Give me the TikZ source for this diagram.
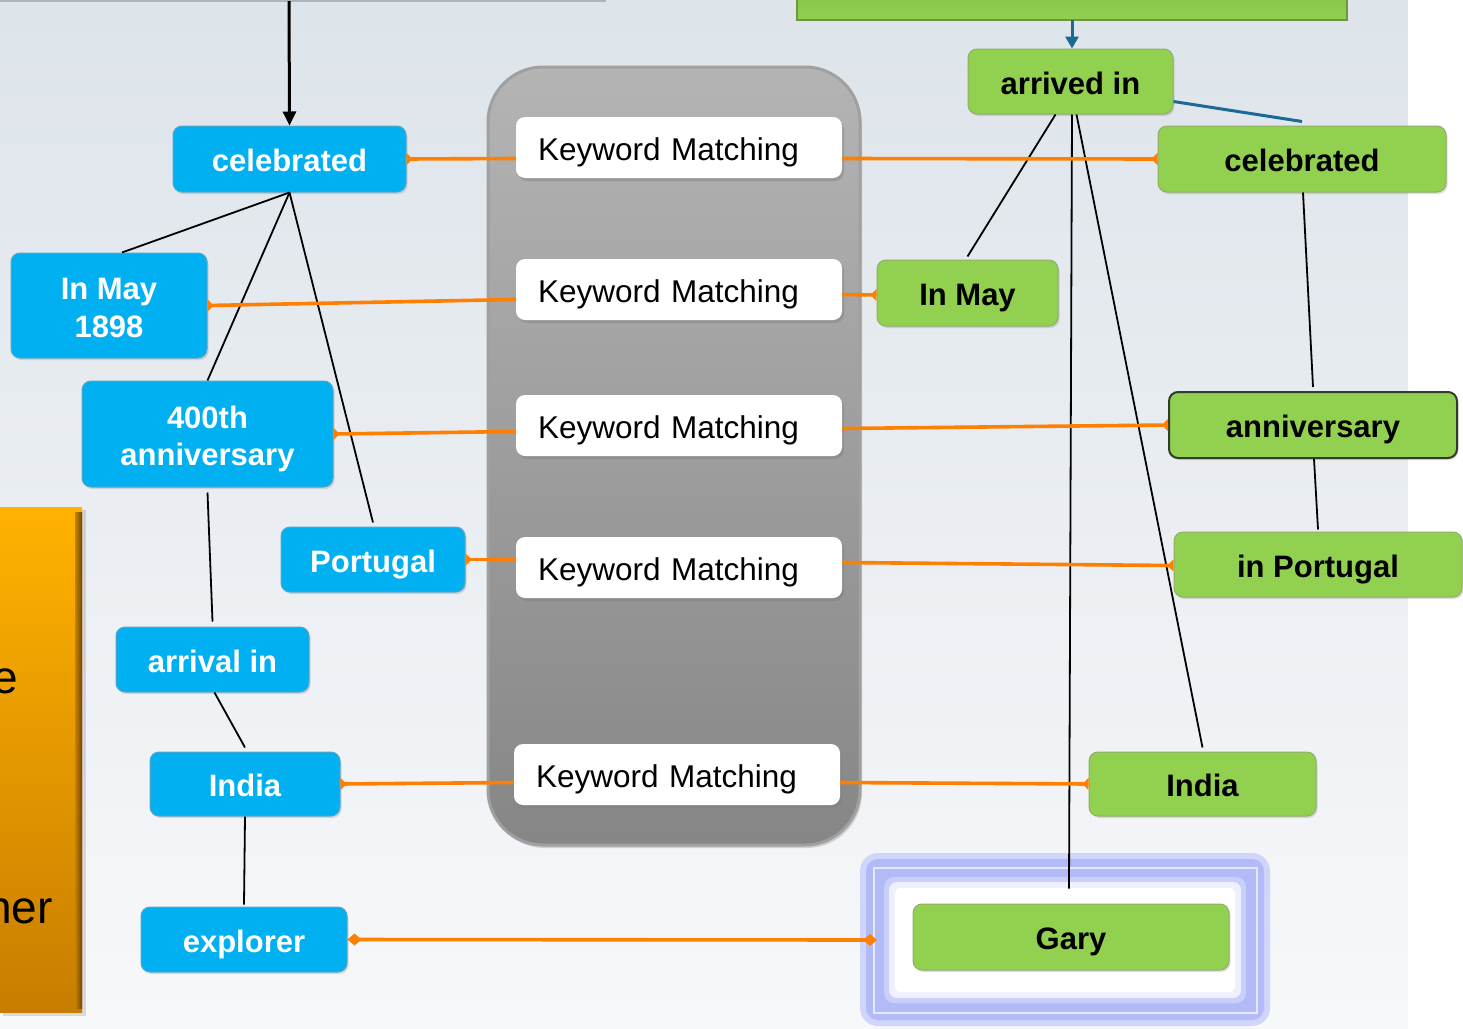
\documentclass[tikz,border=0pt]{standalone}
\usepackage{fontspec}
\setmainfont{Liberation Sans}
\usetikzlibrary{arrows.meta,shadows,calc}
\definecolor{nblue}{HTML}{00B0F0}
\definecolor{nblueline}{HTML}{5AA6C8}
\definecolor{ngreen}{HTML}{92D050}
\definecolor{ngreenline}{HTML}{8FAE6A}
\definecolor{oline}{HTML}{FF7F00}
\definecolor{tealline}{HTML}{1A6A94}
\definecolor{bgtop}{RGB}{221,228,234}
\definecolor{bgbot}{RGB}{247,248,250}
\definecolor{tlfill}{RGB}{230,236,240}
\definecolor{tlline}{RGB}{170,182,190}
\definecolor{tgline}{RGB}{110,150,60}
\definecolor{orTop}{RGB}{255,178,0}
\definecolor{orBot}{RGB}{200,125,0}
\definecolor{orEdgeL}{RGB}{200,130,0}
\definecolor{orEdgeR}{RGB}{110,70,10}
\definecolor{pTop}{RGB}{180,180,180}
\definecolor{pBot}{RGB}{134,134,134}
\definecolor{pLine}{RGB}{160,160,160}
\definecolor{gl1}{RGB}{208,213,251}
\definecolor{gl2}{RGB}{178,187,247}
\definecolor{gl3}{RGB}{226,232,255}
\definecolor{gl4}{RGB}{200,207,250}
\definecolor{gl5}{RGB}{238,240,254}
\definecolor{annline}{RGB}{50,60,45}
\begin{document}
\begin{tikzpicture}[x=1pt,y=-1pt,
  lbl/.style={font=\fontsize{31}{37.5}\selectfont\bfseries, align=center, inner sep=0pt},
  one/.style={text height=25pt, text depth=0pt},
  two/.style={text height=63pt, text depth=0pt},
  bluebox/.style={lbl, rounded corners=9pt, fill=nblue, draw=nblueline, line width=1pt, text=white,
     drop shadow={opacity=0.25, shadow xshift=1.5pt, shadow yshift=-2pt}},
  greenbox/.style={lbl, one, rounded corners=9pt, fill=ngreen, draw=ngreenline, line width=1pt, text=black,
     drop shadow={opacity=0.25, shadow xshift=1.5pt, shadow yshift=-2pt}},
  kmbox/.style={font=\fontsize{31.5}{36}\selectfont, rounded corners=9pt, fill=white, draw=none,
     minimum width=326pt, minimum height=61pt, inner xsep=22pt, inner ysep=0pt, text width=282pt, align=left,
     text height=25pt, text depth=0pt,
     drop shadow={opacity=0.45, shadow xshift=2pt, shadow yshift=-3pt}},
  blk/.style={draw=black, line width=1.8pt},
  orl/.style={draw=oline, line width=3.6pt},
  otip/.style={orl, -{Triangle[reversed, length=6pt, width=12pt]}},
  otipstart/.style={orl, {Triangle[reversed, length=6pt, width=12pt]}-},
  odia/.style={orl, {Diamond[length=14pt, width=12pt]}-{Diamond[length=14pt, width=12pt]}},
  teal/.style={draw=tealline, line width=3pt}
]
\useasboundingbox (0,0) rectangle (1463,1028);
% background
\shade[top color=bgtop, bottom color=bgbot] (0,0) rectangle (1408,1028);
\fill[white] (1408,0) rectangle (1463,1028);
% partial boxes at the top
\filldraw[fill=tlfill, draw=tlline, line width=1.2pt] (-10,-40) rectangle (605,1);
\shade[top color=ngreen!85!black, bottom color=ngreen, draw=tgline, line width=1.5pt] (797,-40) rectangle (1347,20);
% orange box at the left
\fill[black, opacity=0.12] (3,510) rectangle (86,1016);
\shade[top color=orTop, bottom color=orBot] (-10,507) rectangle (82,1012);
\shade[left color=orEdgeL, right color=orEdgeR] (75,512) rectangle (82,1008);
\node[font=\fontsize{46}{50}\selectfont, anchor=base east, inner sep=0pt] (oe) at (18,693) {e};
\node[font=\fontsize{46}{50}\selectfont, anchor=base east, inner sep=0pt] (oner) at (53,923) {ner};
% grey panel
\shade[rounded corners=55pt, top color=pTop, bottom color=pBot,
  draw=pLine, line width=3pt,
  drop shadow={opacity=0.3, shadow xshift=2pt, shadow yshift=-3pt}] (488,67) rectangle (860,845);
% Gary glow frame
\fill[gl1, rounded corners=18pt] (860,853) rectangle (1270,1026);
\fill[gl2, rounded corners=12pt] (866,859) rectangle (1264,1020);
\draw[gl3, line width=2pt] (874,868) rectangle (1257,1013);
\fill[gl4, rounded corners=10pt] (884,877) rectangle (1246,1003);
\fill[gl5, rounded corners=8pt] (889,882) rectangle (1241,998);
\fill[white, rounded corners=6pt] (895,888) rectangle (1235,992);
\coordinate (garyport) at (877,940);
% keyword matching boxes
\node[kmbox] (km1) at (679,147.5) {Keyword Matching};
\node[kmbox] (km2) at (679,289.5) {Keyword Matching};
\node[kmbox] (km3) at (679,425.5) {Keyword Matching};
\node[kmbox] (km4) at (679,567.5) {Keyword Matching};
\node[kmbox] (km5) at (677,774.5) {Keyword Matching};
% blue nodes
\node[bluebox, one, minimum width=233pt, minimum height=66pt] (celB) at (289.5,159) {celebrated};
\node[bluebox, two, minimum width=196pt, minimum height=105pt] (inmayB) at (109,305.5) {In May\\1898};
\node[bluebox, two, minimum width=251pt, minimum height=106pt] (annB) at (207.5,434) {400th\\anniversary};
\node[bluebox, one, minimum width=184pt, minimum height=65pt] (portB) at (373,559.5) {Portugal};
\node[bluebox, one, minimum width=193pt, minimum height=65pt] (arrB) at (212.5,659.5) {arrival in};
\node[bluebox, one, minimum width=190pt, minimum height=64pt] (indB) at (245,784) {India};
\node[bluebox, one, minimum width=206pt, minimum height=65pt] (expB) at (244,939.5) {explorer};
% green nodes
\node[greenbox, minimum width=205pt, minimum height=65pt] (arrG) at (1070.5,81.5) {arrived in};
\node[greenbox, minimum width=288pt, minimum height=66pt] (celG) at (1302,159) {celebrated};
\node[greenbox, minimum width=181pt, minimum height=66pt] (inmayG) at (967.5,293) {In May};
\node[greenbox, minimum width=288pt, minimum height=66pt, draw=annline, line width=2pt] (annG) at (1313,425) {anniversary};
\node[greenbox, minimum width=288pt, minimum height=65pt] (portG) at (1318,564.5) {in Portugal};
\node[greenbox, minimum width=227pt, minimum height=64pt] (indG) at (1202.5,784) {India};
\node[greenbox, minimum width=316pt, minimum height=66pt] (garyG) at (1071,937) {Gary};
\coordinate (topG) at (1072,20);
\coordinate (topL) at (289,1);
% black connectors
\draw[draw=black, line width=3pt, -{Triangle[length=14pt, width=13pt]}] (topL) -- (celB.north);
\draw[blk] (celB.south) -- ([xshift=13pt]inmayB.north);
\draw[blk] (celB.south) -- (annB.north);
\draw[blk] (celB.south) -- ([yshift=4pt]portB.north);
\draw[blk] ([yshift=-5pt]annB.south) -- ([yshift=5pt]arrB.north);
\draw[blk] ([xshift=2pt]arrB.south) -- ([yshift=4pt]indB.north);
\draw[blk] (indB.south) -- ([yshift=2pt]expB.north);
\draw[blk] ([xshift=-15pt]arrG.south) -- ([yshift=3pt]inmayG.north);
\draw[blk] ([xshift=1.5pt]arrG.south) -- ([xshift=-2pt,yshift=15pt]garyG.north);
\draw[blk] ([xshift=6pt]arrG.south) -- ([yshift=4pt]indG.north);
\draw[blk] ([xshift=1pt]celG.south) -- ([yshift=4pt]annG.north);
\draw[blk] ([xshift=1pt]annG.south) -- ([yshift=2pt]portG.north);
% teal connectors
\draw[teal, -{Triangle[length=12pt, width=13pt]}] (topG) -- ([xshift=1.5pt]arrG.north);
\draw[teal] ([yshift=-20pt]arrG.east) -- ([yshift=4pt]celG.north);
% orange connectors
\draw[otipstart] (celB.east) -- ([yshift=-11pt]km1.west);
\draw[otip] ([yshift=-11pt]km1.east) -- (celG.west);
\draw[otipstart] (inmayB.east) -- ([yshift=-10pt]km2.west);
\draw[otip] ([yshift=-5pt]km2.east) -- ([yshift=-2pt]inmayG.west);
\draw[otipstart] (annB.east) -- ([yshift=-6pt]km3.west);
\draw[otip] ([yshift=-3pt]km3.east) -- (annG.west);
\draw[otipstart] (portB.east) -- ([yshift=8pt]km4.west);
\draw[otip] ([yshift=5pt]km4.east) -- ([yshift=-1pt]portG.west);
\draw[otipstart] (indB.east) -- ([yshift=-8pt]km5.west);
\draw[otip] ([yshift=-8pt]km5.east) -- (indG.west);
\draw[odia] (expB.east) -- (garyport);
\end{tikzpicture}
\end{document}
